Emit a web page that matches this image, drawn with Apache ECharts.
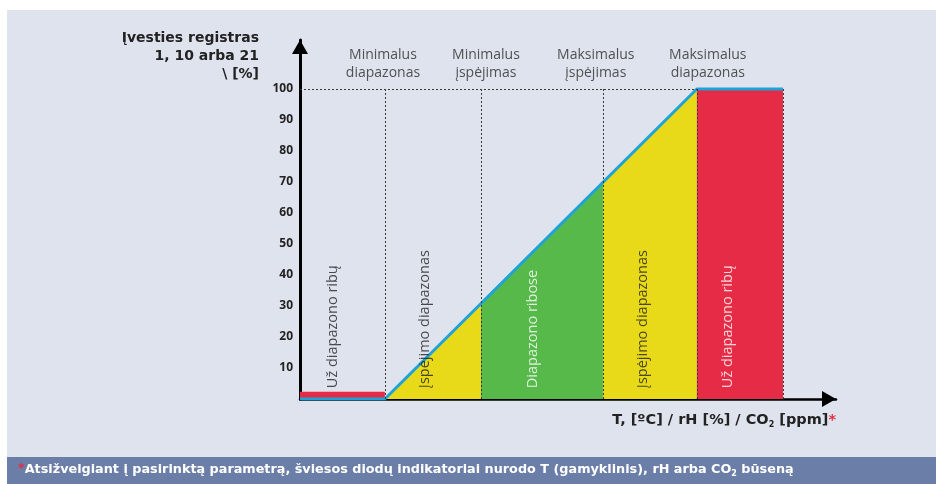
<!DOCTYPE html>
<html>
<head>
<meta charset="utf-8">
<script src="https://cdn.jsdelivr.net/npm/echarts@6/dist/echarts.min.js"></script>
<style>
html,body{margin:0;padding:0;background:#ffffff;}
#chart{width:936px;height:484px;}
</style>
</head>
<body>
<div id="chart"></div>
<script>
// ---- data ----
const yTickValues = [10, 20, 30, 40, 50, 60, 70, 80, 90, 100];
const zoneEdges = [-27.2, 0, 30.8, 69.9, 100, 127.6];
const rampLine = [[-27.2, 0], [0, 0], [100, 100], [127.6, 100]];
const lowOutValues = [[-27.2, 2.3], [0, 2.3]];
const lowWarnValues = [[0, 0], [30.8, 30.8]];
const okValues = [[30.8, 30.8], [69.9, 69.9]];
const highWarnValues = [[69.9, 69.9], [100, 100]];
const highOutValues = [[100, 100], [127.6, 100]];
const zoneLabels = ['Už diapazono ribų', 'Įspėjimo diapazonas', 'Diapazono ribose', 'Įspėjimo diapazonas', 'Už diapazono ribų'];
const zoneLabelX = [-16.7, 12.8, 47.4, 82.7, 109.9];
const zoneLabelDark = [true, true, false, true, false];
const headerNames = ['Minimalus\ndiapazonas', 'Minimalus\nįspėjimas', 'Maksimalus\nįspėjimas', 'Maksimalus\ndiapazonas'];
const headerX = [-0.6, 32.4, 67.6, 103.5];
const yAxisName = 'Įvesties registras\n1, 10 arba 21\n\\ [%]';
const footnote = 'Atsižvelgiant į pasirinktą parametrą, šviesos diodų indikatoriai nurodo T (gamyklinis), rH arba CO';

const FONT = 'Open Sans';
const BFONT = 'DejaVu Sans';
const RED = '#e52b45', YELLOW = '#e8d919', GREEN = '#56b94a', BLUE = '#1ea3d9';
const DARK = '#222222';

function area(data, color) {
  return {
    type: 'line', data: data, symbol: 'none', silent: true, z: 2,
    lineStyle: { width: 0 }, areaStyle: { color: color, opacity: 1 }
  };
}

const markLines = zoneEdges.slice(1).map(x => [{ coord: [x, 0] }, { coord: [x, 100] }]);
markLines.push([{ coord: [zoneEdges[0], 100] }, { coord: [100, 100] }]);

const chart = echarts.init(document.getElementById('chart'));
chart.setOption({
  animation: false,
  textStyle: { fontFamily: FONT },
  grid: { left: 300, right: 100, top: 40, bottom: 85 },
  graphic: { elements: [
    { type: 'rect', z: -100, shape: { x: 7, y: 10, width: 929, height: 447 }, style: { fill: '#dfe3ee' } },
    { type: 'rect', z: -100, shape: { x: 7, y: 457, width: 929, height: 27 }, style: { fill: '#6b7ea8' } },
    { type: 'text', z: 10, x: 18, y: 470, style: {
      text: '{s|*}{t|' + footnote + '}{sub|2}{t| būseną}',
      verticalAlign: 'middle', align: 'left',
      rich: {
        s: { fill: RED, fontFamily: BFONT, fontWeight: 'bold', fontSize: 12.8, verticalAlign: 'top' },
        t: { fill: '#ffffff', fontFamily: BFONT, fontWeight: 'bold', fontSize: 12.8 },
        sub: { fill: '#ffffff', fontFamily: BFONT, fontWeight: 'bold', fontSize: 8, verticalAlign: 'bottom', padding: [8, 0, 0, 0] }
      }
    } }
  ] },
  xAxis: {
    type: 'value', min: -27.2, max: 144.6,
    axisLine: { show: true, onZero: false, symbol: ['none', 'triangle'], symbolSize: [16, 14], symbolOffset: [0, -7],
      lineStyle: { color: '#000', width: 2.5 } },
    axisTick: { show: false }, axisLabel: { show: false }, splitLine: { show: false },
    name: '{t|T, [ºC] / rH [%] / CO}{sub|2}{t| [ppm]}{s|*}',
    nameLocation: 'end', nameGap: 0,
    nameTextStyle: {
      align: 'right', verticalAlign: 'top', padding: [13, 0, 0, 0],
      rich: {
        t: { color: DARK, fontFamily: BFONT, fontWeight: 'bold', fontSize: 14.5 },
        sub: { color: DARK, fontFamily: BFONT, fontWeight: 'bold', fontSize: 8, verticalAlign: 'bottom', padding: [9, 0, 0, 0] },
        s: { color: RED, fontFamily: BFONT, fontWeight: 'bold', fontSize: 14.5 }
      }
    }
  },
  yAxis: {
    type: 'value', min: 0, max: 115.8,
    axisLine: { show: true, onZero: false, symbol: ['none', 'triangle'], symbolSize: [16, 14], symbolOffset: [0, -7],
      lineStyle: { color: '#000', width: 3 } },
    axisTick: { show: false }, splitLine: { show: false },
    axisLabel: { customValues: yTickValues, color: DARK, fontWeight: 'bold', fontSize: 12, margin: 7, fontFamily: FONT },
    name: yAxisName, nameLocation: 'end', nameGap: -18,
    nameTextStyle: { align: 'right', verticalAlign: 'middle', padding: [0, 41, 0, 0],
      color: DARK, fontWeight: 'bold', fontSize: 14, lineHeight: 18, fontFamily: BFONT }
  },
  series: [
    area(lowOutValues, RED),
    area(lowWarnValues, YELLOW),
    area(okValues, GREEN),
    area(highWarnValues, YELLOW),
    area(highOutValues, RED),
    {
      type: 'line', data: rampLine, symbol: 'none', silent: true, z: 4,
      lineStyle: { color: BLUE, width: 3 },
      markLine: {
        silent: true, symbol: 'none', label: { show: false },
        lineStyle: { type: [2, 2], color: '#3a3a30', width: 1 },
        data: markLines
      }
    },
    {
      type: 'scatter', symbolSize: 0, silent: true, z: 5,
      data: zoneLabels.map((t, i) => ({
        value: [zoneLabelX[i], 3.5], name: t,
        label: { color: zoneLabelDark[i] ? DARK : '#ffffff' }
      })),
      label: { show: true, formatter: p => p.name, position: 'inside', rotate: 90,
        align: 'left', verticalAlign: 'middle', fontSize: 14.5, fontFamily: FONT }
    },
    {
      type: 'scatter', symbolSize: 0, silent: true, z: 5,
      data: headerNames.map((t, i) => ({ value: [headerX[i], 108], name: t })),
      label: { show: true, formatter: p => p.name, position: 'inside', align: 'center', verticalAlign: 'middle',
        color: '#2a2a2a', fontSize: 14, lineHeight: 18, fontFamily: FONT }
    }
  ]
});
</script>
</body>
</html>
